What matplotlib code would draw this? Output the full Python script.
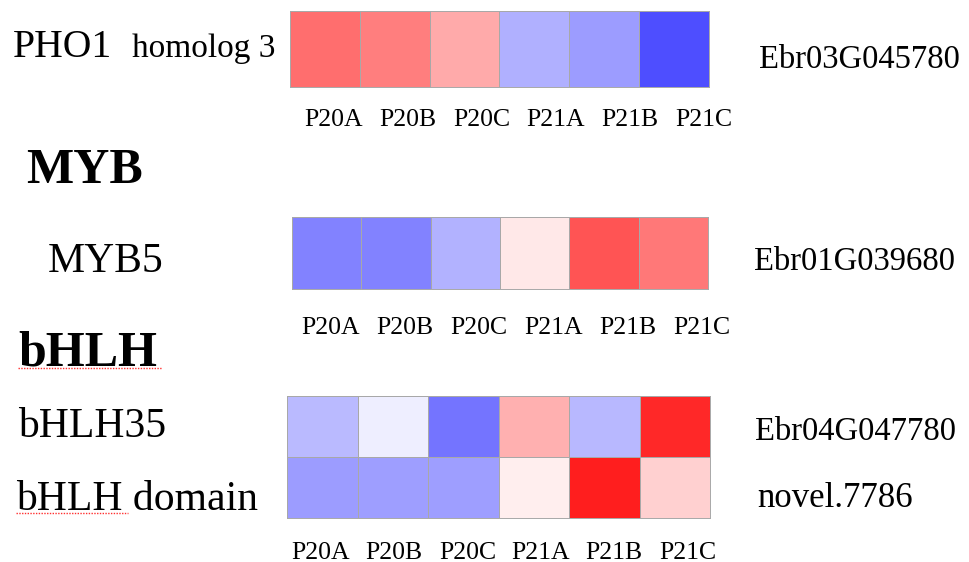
import numpy as np
import matplotlib
matplotlib.use("Agg")
import matplotlib.pyplot as plt
from matplotlib.colors import LinearSegmentedColormap
from matplotlib.lines import Line2D

samples = ["P20A", "P20B", "P20C", "P21A", "P21B", "P21C"]

pho1_values = [0.57, 0.50, 0.33, -0.31, -0.39, -0.69]
myb5_values = [-0.49, -0.49, -0.30, 0.09, 0.67, 0.53]
bhlh35_values = [-0.27, -0.07, -0.54, 0.31, -0.28, 0.84]
bhlh_domain_values = [-0.39, -0.38, -0.38, 0.07, 0.88, 0.18]

gene_names = ["PHO1", "MYB5", "bHLH35", "bHLH domain"]
gene_ids = ["Ebr03G045780", "Ebr01G039680", "Ebr04G047780", "novel.7786"]
family_titles = ["MYB", "bHLH"]

W, H = 969, 562
fig = plt.figure(figsize=(W / 100, H / 100), dpi=100)
FONT = "Liberation Serif"
cmap = LinearSegmentedColormap.from_list("bwr2", ["#0000ff", "#ffffff", "#ff0000"])


def px_axes(left, right, top, bottom):
    return fig.add_axes([left / W, 1 - bottom / H, (right - left) / W, (bottom - top) / H])


def heat(ax, rows, tick_start, tick_step, pad):
    data = np.array(rows)
    ax.pcolormesh(data, cmap=cmap, vmin=-1, vmax=1, edgecolors="#a8a8a8", linewidth=0.7)
    ax.set_xlim(0, data.shape[1])
    ax.set_ylim(data.shape[0], 0)
    ax.set_yticks([])
    ax.set_xticks(tick_start + tick_step * np.arange(len(samples)))
    ax.set_xticklabels(samples, fontfamily=FONT, fontsize=18.5)
    ax.tick_params(axis="x", length=0, pad=pad)
    for s in ax.spines.values():
        s.set_color("#a8a8a8")
        s.set_linewidth(0.7)


def ftext(x, y, s, size, weight="normal"):
    fig.text(x / W, 1 - y / H, s, fontfamily=FONT, fontsize=size,
             fontweight=weight, va="baseline", ha="left")


ax1 = px_axes(290, 709, 11, 87)
heat(ax1, [pho1_values], 0.63, 1.06, 16)
ax2 = px_axes(292, 708, 217, 289)
heat(ax2, [myb5_values], 0.56, 1.07, 20)
ax3 = px_axes(287, 710, 396, 518)
heat(ax3, [bhlh35_values, bhlh_domain_values], 0.48, 1.04, 17)

# left labels
ftext(13, 57, gene_names[0], 28.5)
ftext(132, 57, "homolog 3", 24)
ftext(26, 183, family_titles[0], 36, "bold")
ftext(48, 272, gene_names[1], 30)
ftext(18, 365, family_titles[1], 36, "bold")
ftext(18, 437, gene_names[2], 30)
ftext(16, 510, gene_names[3], 30)

# right labels
ftext(759, 68, gene_ids[0], 23.5)
ftext(754, 270, gene_ids[1], 23.5)
ftext(755, 440, gene_ids[2], 23.5)
ftext(757, 507, gene_ids[3], 25)

# spell-check style red dotted underlines
for x0, x1, y in [(18, 162, 368), (16, 128, 513)]:
    fig.add_artist(Line2D([x0 / W, x1 / W], [1 - y / H, 1 - y / H],
                          transform=fig.transFigure, color="#ff3030",
                          linewidth=1.0, linestyle=(0, (1, 1))))

fig.savefig("out.png", dpi=100)
